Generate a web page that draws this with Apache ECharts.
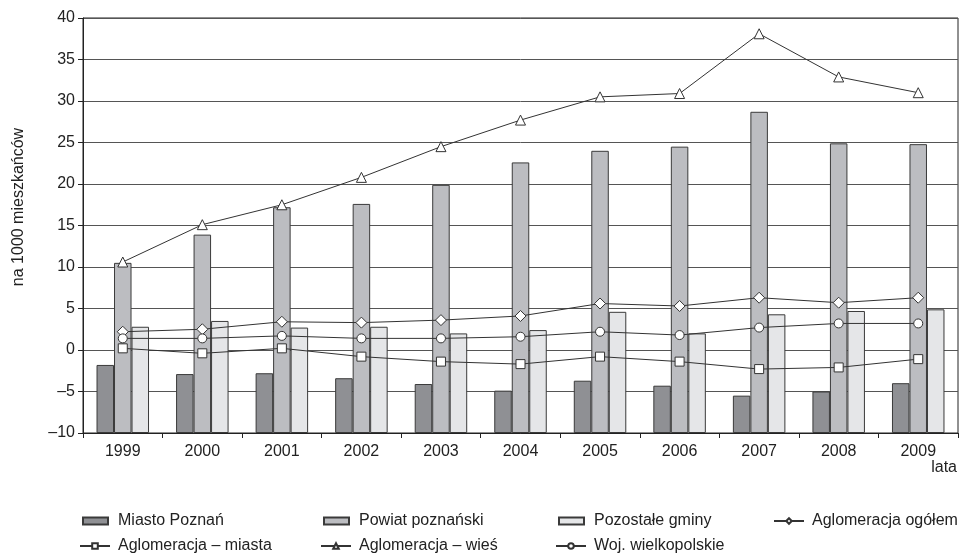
<!DOCTYPE html>
<html>
<head>
<meta charset="utf-8">
<script src="https://cdn.jsdelivr.net/npm/echarts@6/dist/echarts.min.js"></script>
<style>
    html, body { margin: 0; padding: 0; background: #fff; }
    #chart { width: 961px; height: 553px; }
</style>
</head>
<body>
<div id="chart"></div>
<script>
var years = ['1999', '2000', '2001', '2002', '2003', '2004', '2005', '2006', '2007', '2008', '2009'];
var miastoPoznan = [-1.8, -2.9, -2.8, -3.4, -4.1, -4.9, -3.7, -4.3, -5.5, -5.0, -4.0];
var powiatPoznanski = [10.5, 13.9, 17.2, 17.6, 19.9, 22.6, 24.0, 24.5, 28.7, 24.9, 24.8];
var pozostaleGminy = [2.8, 3.5, 2.7, 2.8, 2.0, 2.4, 4.6, 2.0, 4.3, 4.7, 4.9];
var aglomeracjaOgolem = [2.2, 2.5, 3.4, 3.3, 3.6, 4.1, 5.6, 5.3, 6.3, 5.7, 6.3];
var aglomeracjaMiasta = [0.2, -0.4, 0.2, -0.8, -1.4, -1.7, -0.8, -1.4, -2.3, -2.1, -1.1];
var aglomeracjaWies = [10.6, 15.1, 17.5, 20.8, 24.5, 27.7, 30.5, 30.9, 38.1, 32.9, 31.0];
var wojWielkopolskie = [1.4, 1.4, 1.7, 1.4, 1.4, 1.6, 2.2, 1.8, 2.7, 3.2, 3.2];

var font = "'Liberation Sans', Arial, sans-serif";
var lineColor = '#333';

var chart = echarts.init(document.getElementById('chart'));

function barSeries(name, data, color) {
    return {
        name: name,
        type: 'bar',
        data: data,
        barWidth: 17.5,
        barGap: '0%',
        itemStyle: {color: color, borderColor: '#3a3a3a', borderWidth: 1},
        z: 2
    };
}

function lineSeries(name, data, symbol, size) {
    return {
        name: name,
        type: 'line',
        data: data,
        symbol: symbol,
        symbolSize: size,
        lineStyle: {color: lineColor, width: 1},
        itemStyle: {color: '#fff', borderColor: lineColor, borderWidth: 1},
        z: 5
    };
}

// textLeft = where the label text starts, icon sits before it
function legendAt(name, textLeft, top, isLine) {
    var w = isLine ? 30 : 25;
    var gap = isLine ? 3 : 5;
    var lg = {
        data: [name],
        left: textLeft - w - 5 - gap,
        top: top,
        itemWidth: w,
        itemHeight: isLine ? 7 : 7,
        itemGap: 0,
        textStyle: {fontFamily: font, fontSize: 16, color: '#222', padding: [0, 0, 0, gap]}
    };
    if (!isLine) lg.icon = 'rect';
    return lg;
}

var option = {
    backgroundColor: '#fff',
    animation: false,
    textStyle: {fontFamily: font},
    grid: {
        left: 83,
        right: 3,
        top: 18,
        bottom: 120,
        show: true,
        borderColor: '#222',
        borderWidth: 1
    },
    legend: [
        legendAt('Miasto Poznań', 112, 508, false),
        legendAt('Powiat poznański', 353, 508, false),
        legendAt('Pozostałe gminy', 588, 508, false),
        legendAt('Aglomeracja ogółem', 806, 508, true),
        legendAt('Aglomeracja – miasta', 112, 533, true),
        legendAt('Aglomeracja – wieś', 353, 533, true),
        legendAt('Woj. wielkopolskie', 588, 533, true)
    ],
    xAxis: {
        type: 'category',
        data: years,
        axisLine: {onZero: false, lineStyle: {color: '#222'}},
        axisTick: {show: true, length: 5, lineStyle: {color: '#222'}},
        axisLabel: {fontSize: 16, color: '#222', margin: 11}
    },
    yAxis: {
        type: 'value',
        min: -10,
        max: 40,
        interval: 5,
        startValue: -10,
        axisLine: {show: true, lineStyle: {color: '#222'}},
        axisTick: {show: true, length: 5, lineStyle: {color: '#222'}},
        axisLabel: {
            fontSize: 16,
            color: '#222',
            margin: 8,
            formatter: function (v) { return v < 0 ? '–' + Math.abs(v) : String(v); }
        },
        splitLine: {lineStyle: {color: '#555', width: 1}}
    },
    graphic: [
        {
            type: 'text',
            x: 19,
            y: 207,
            rotation: Math.PI / 2,
            style: {text: 'na 1000 mieszkańców', fontFamily: font, fontSize: 16, fill: '#222', align: 'center', verticalAlign: 'middle'}
        },
        {
            type: 'text',
            right: 4,
            top: 460,
            style: {text: 'lata', fontFamily: font, fontSize: 16, fill: '#222'}
        }
    ],
    series: [
        barSeries('Miasto Poznań', miastoPoznan, '#8f9094'),
        barSeries('Powiat poznański', powiatPoznanski, '#bcbdc1'),
        barSeries('Pozostałe gminy', pozostaleGminy, '#e5e6e8'),
        lineSeries('Aglomeracja ogółem', aglomeracjaOgolem, 'diamond', 11),
        lineSeries('Aglomeracja – miasta', aglomeracjaMiasta, 'rect', 9),
        lineSeries('Aglomeracja – wieś', aglomeracjaWies, 'triangle', 10),
        lineSeries('Woj. wielkopolskie', wojWielkopolskie, 'circle', 9)
    ]
};
chart.setOption(option);
</script>
</body>
</html>
